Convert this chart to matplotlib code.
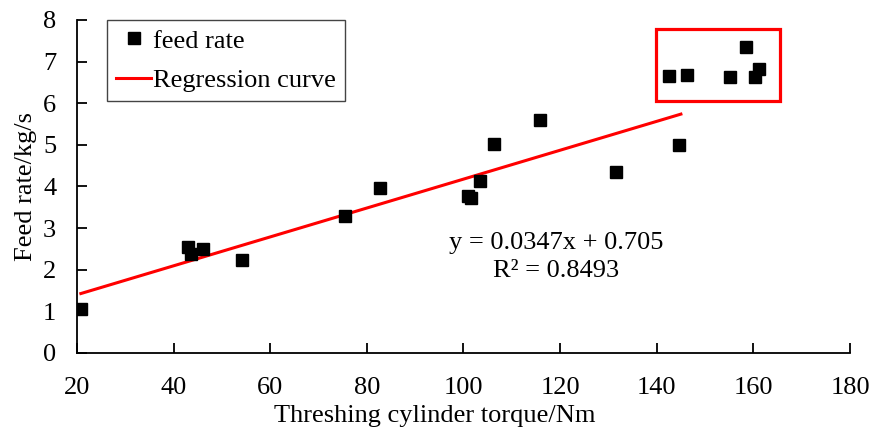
import numpy as np
import matplotlib.pyplot as plt
from matplotlib.patches import Rectangle

plt.rcParams['font.family'] = 'Liberation Serif'
plt.rcParams['mathtext.fontset'] = 'stix'

# torque (Nm) vs feed rate (kg/s)
torque = [20.8, 43.0, 43.7, 46.0, 54.2, 75.5, 82.7, 101.0, 101.5, 103.5, 106.3,
          115.8, 131.5, 144.6, 142.5, 146.2, 155.1, 158.5, 160.4, 161.1]
feed = [1.06, 2.55, 2.38, 2.50, 2.23, 3.30, 3.97, 3.78, 3.72, 4.12, 5.03,
        5.60, 4.35, 5.00, 6.65, 6.68, 6.62, 7.35, 6.63, 6.83]

slope = 0.0347
intercept = 0.705
fit_range = [20.8, 145.0]

fig = plt.figure(figsize=(8.7, 4.32), dpi=100)
ax = fig.add_axes([0.0885, 0.183, 0.8885, 0.771])

ax.plot(torque, feed, 's', color='black', markersize=8.5, label='feed rate', zorder=3)
xf = np.array(fit_range)
ax.plot(xf, slope * xf + intercept, color='red', lw=2.2, label='Regression curve')

ax.add_patch(Rectangle((139.9, 6.06), 25.7, 1.73, fill=False, edgecolor='red', lw=2.3))

ax.text(119.2, 2.64, 'y = 0.0347x + 0.705', ha='center', va='center', fontsize=19)
ax.text(119.2, 1.97, 'R² = 0.8493', ha='center', va='center', fontsize=19)

ax.set_xlim(20, 180)
ax.set_ylim(0, 8)
ax.set_xticks(range(20, 181, 20))
ax.set_yticks(range(0, 9))
ax.tick_params(direction='in', length=7, width=1.3, labelsize=19)
ax.tick_params(axis='y', pad=15)
ax.tick_params(axis='x', pad=17)
for s in ['top', 'right']:
    ax.spines[s].set_visible(False)
for s in ['left', 'bottom']:
    ax.spines[s].set_linewidth(1.3)

ax.set_xlabel('Threshing cylinder torque/Nm', fontsize=19, labelpad=4)
ax.xaxis.set_label_coords(0.463, -0.155, transform=ax.transAxes)
ax.xaxis.label.set_va('top')
ax.set_ylabel('Feed rate/kg/s', fontsize=19, labelpad=4)

leg = ax.legend(loc='upper left', bbox_to_anchor=(0.039, 1.0), borderaxespad=0,
                fontsize=19, fancybox=False, edgecolor='#444444', framealpha=1,
                handlelength=1.3, handletextpad=0.1, borderpad=0.35, labelspacing=0.6)
leg.get_frame().set_linewidth(1.0)

plt.savefig('out.png', dpi=100)
